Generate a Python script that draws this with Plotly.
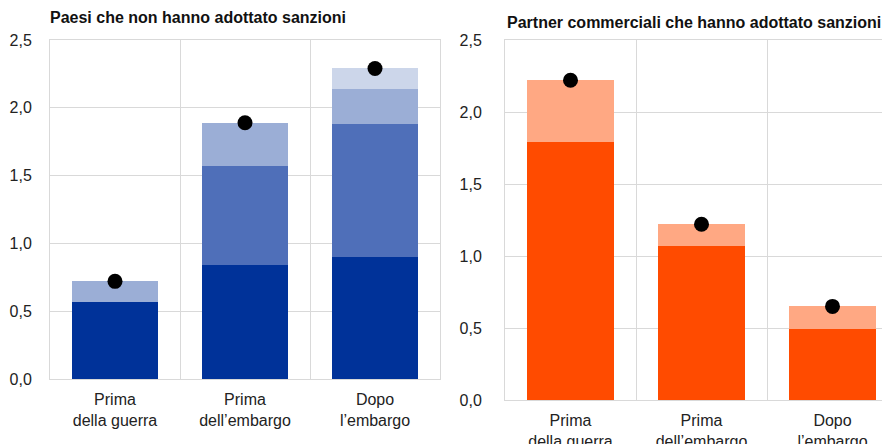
import plotly.graph_objects as go

categories = ["Prima<br>della guerra", "Prima<br>dell’embargo", "Dopo<br>l’embargo"]

# Left panel: countries that did not adopt sanctions (stacked components)
left_dark = [0.57, 0.84, 0.90]
left_mid = [0.0, 0.73, 0.98]
left_light = [0.15, 0.32, 0.26]
left_lightest = [0.0, 0.0, 0.15]
left_total = [0.72, 1.89, 2.29]

# Right panel: trade partners that adopted sanctions
right_dark = [1.79, 1.07, 0.49]
right_light = [0.43, 0.15, 0.16]
right_total = [2.22, 1.22, 0.65]

yticks = [0, 0.5, 1.0, 1.5, 2.0, 2.5]
left_title = "Paesi che non hanno adottato sanzioni"
right_title = "Partner commerciali che hanno adottato sanzioni"

FONT = "Liberation Sans, Arial, sans-serif"
GRID = "#D9D9D9"

fig = go.Figure()
for vals, col in [(left_dark, "#003299"), (left_mid, "#4F6FB9"),
                  (left_light, "#9BAED6"), (left_lightest, "#CCD6EA")]:
    fig.add_trace(go.Bar(x=categories, y=vals, marker=dict(color=col, line=dict(width=0)),
                         xaxis="x", yaxis="y", showlegend=False))
fig.add_trace(go.Scatter(x=categories, y=left_total, mode="markers",
                         marker=dict(color="black", size=15), xaxis="x", yaxis="y", showlegend=False))

for vals, col in [(right_dark, "#FF4B00"), (right_light, "#FFA883")]:
    fig.add_trace(go.Bar(x=categories, y=vals, marker=dict(color=col, line=dict(width=0)),
                         xaxis="x2", yaxis="y2", showlegend=False))
fig.add_trace(go.Scatter(x=categories, y=right_total, mode="markers",
                         marker=dict(color="black", size=15), xaxis="x2", yaxis="y2", showlegend=False))

H = 444.0
W = 890.0
OFF = 8.0  # page body margin offset


def px_x(X):
    return (X - OFF) / W


def px_y(Y):
    return (H - (Y - OFF)) / H


common_x = dict(type="category", tickson="boundaries", showgrid=True, gridcolor=GRID, gridwidth=1,
                ticks="", showline=True, linecolor=GRID, linewidth=1, automargin=False,
                ticklabelstandoff=6,
                tickfont=dict(family=FONT, size=16, color="#222222"), fixedrange=True)
common_y = dict(range=[0, 2.5], tickvals=yticks, tickformat=".1f", showgrid=True, gridcolor=GRID,
                gridwidth=1, ticks="", showline=True, linecolor=GRID, linewidth=1, zeroline=False,
                automargin=False,
                tickfont=dict(family=FONT, size=16, color="#222222"), fixedrange=True)

fig.update_layout(
    width=890, height=444,
    margin=dict(l=0, r=0, t=0, b=0, autoexpand=False),
    paper_bgcolor="white", plot_bgcolor="white",
    barmode="stack", bargap=0.34,
    separators=",.",
    font=dict(family=FONT, size=16, color="#222222"),
    xaxis=dict(domain=[px_x(50), px_x(440)], range=[-0.5, 2.5], anchor="y", mirror=True, **common_x),
    yaxis=dict(domain=[px_y(379), px_y(40)], anchor="x", mirror=True,
               ticklabelstandoff=14, **common_y),
    xaxis2=dict(domain=[px_x(505), 1.0], range=[-0.5, 2.5], anchor="y2", mirror=True, **common_x),
    yaxis2=dict(domain=[px_y(400), px_y(40)], anchor="x2",
                ticklabelstandoff=19, **common_y),
    annotations=[
        dict(text="<b>" + left_title + "</b>", x=px_x(48), y=px_y(18), xref="paper", yref="paper",
             xanchor="left", yanchor="middle", showarrow=False,
             font=dict(family=FONT, size=16, color="#111111")),
        dict(text="<b>" + right_title + "</b>", x=px_x(505), y=px_y(22), xref="paper", yref="paper",
             xanchor="left", yanchor="middle", showarrow=False,
             font=dict(family=FONT, size=16, color="#111111")),
    ],
)

fig.write_html("out.html")
